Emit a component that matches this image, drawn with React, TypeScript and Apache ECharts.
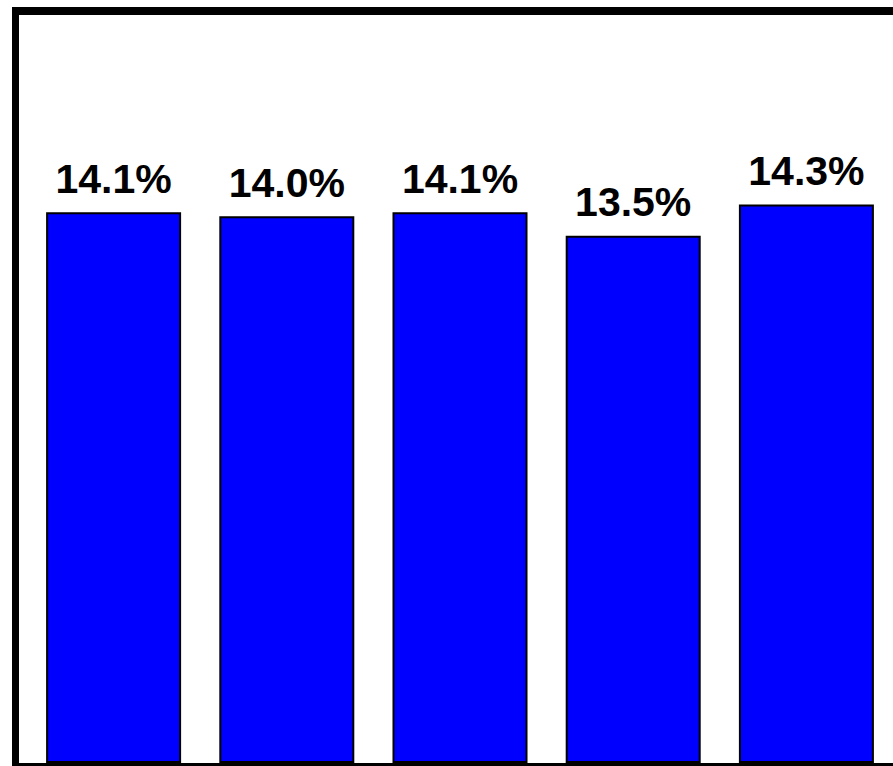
import React, { useEffect, useRef } from "react";
import * as echarts from "echarts";

const categories = ["A", "B", "C", "D", "E"];
const values = [14.1, 14.0, 14.1, 13.5, 14.3];

export default function App() {
  const ref = useRef<HTMLDivElement>(null);
  useEffect(() => {
    if (!ref.current) return;
    const chart = echarts.init(ref.current, null, { renderer: "svg" });
    chart.setOption({
      animation: false,
      backgroundColor: "#ffffff",
      grid: { left: 27, width: 871, top: 15, bottom: 3, containLabel: false },
      xAxis: {
        type: "category",
        data: categories,
        axisLine: { show: false },
        axisTick: { show: false },
        axisLabel: { show: false },
      },
      yAxis: {
        type: "value",
        min: 0,
        max: 19.15,
        show: false,
        splitLine: { show: false },
      },
      graphic: [
        { type: "rect", shape: { x: 12, y: 7, width: 900, height: 8 }, style: { fill: "#000" }, z: 100 },
        { type: "rect", shape: { x: 12, y: 7, width: 7, height: 770 }, style: { fill: "#000" }, z: 100 },
        { type: "rect", shape: { x: 12, y: 763, width: 900, height: 5 }, style: { fill: "#000" }, z: 100 },
      ],
      series: [
        {
          type: "bar",
          data: values,
          barWidth: 135,
          itemStyle: { color: "#0000ff", borderColor: "#000000", borderWidth: 2 },
          label: {
            show: true,
            position: "top",
            distance: 13,
            formatter: (p: any) => p.value.toFixed(1) + "%",
            color: "#000",
            fontFamily: "Liberation Sans, Arial, sans-serif",
            fontWeight: "bold",
            fontSize: 41,
          },
        },
      ],
    });
    return () => chart.dispose();
  }, []);
  return (
    <div
      ref={ref}
      style={{ position: "fixed", left: 0, top: 0, width: 893, height: 766 }}
    />
  );
}
